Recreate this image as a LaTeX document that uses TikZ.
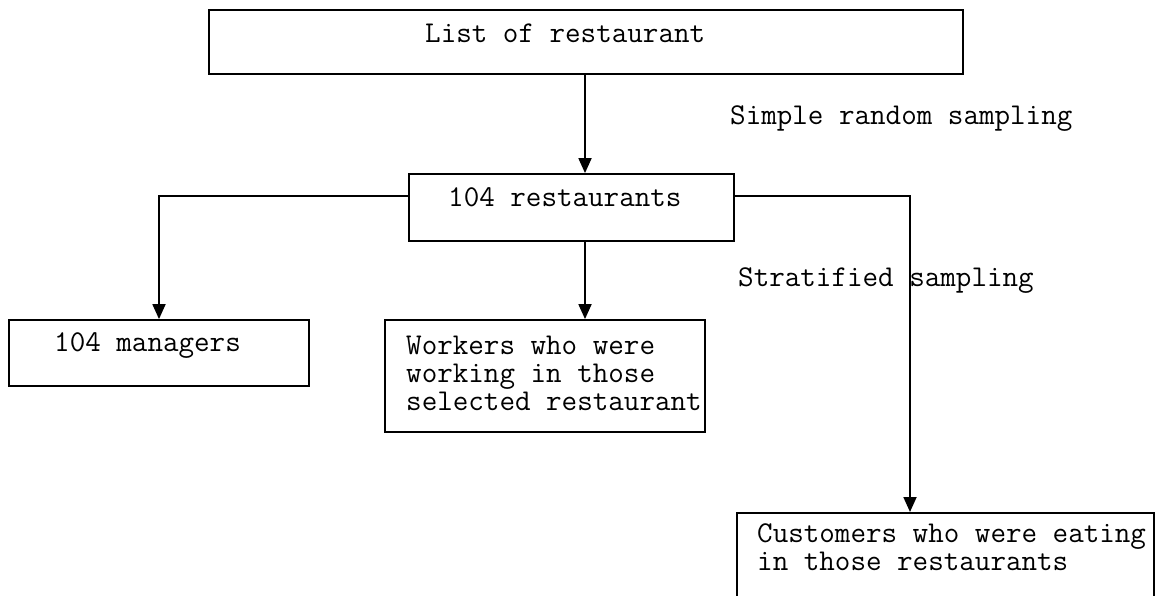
\documentclass[tikz,border=0pt]{standalone}
\usepackage{fontspec}
\usetikzlibrary{arrows.meta}
\tikzset{
  box/.style={draw, line width=1.8pt, rectangle, inner sep=0pt},
  txt/.style={font=\ttfamily\fontsize{30.2}{27.6}\selectfont, inner sep=0pt, anchor=base west, align=left},
  conn/.style={line width=1.8pt},
  arr/.style={line width=1.8pt, -{Triangle[width=13pt,length=15pt]}},
}
\begin{document}
\begin{tikzpicture}[x=1pt,y=-1pt]
\useasboundingbox (0,0) rectangle (1162,595);
\begin{scope}
\clip (0,0) rectangle (1162,595);
% boxes
\node[box, minimum width=754pt, minimum height=64pt] (b1) at (586,42) {};
\node[box, minimum width=325pt, minimum height=67pt] (b2) at (571.5,207.5) {};
\node[box, minimum width=300pt, minimum height=66pt] (b3) at (159,353) {};
\node[box, minimum width=320pt, minimum height=112pt] (b4) at (545,376) {};
\node[box, anchor=north west, minimum width=417pt, minimum height=110pt] (b5) at (736,512) {};
% texts
\node[txt] (t1) at (425,42) {List of restaurant};
\node[txt] (t2) at (448,206) {104 restaurants};
\node[txt] (t3) at (54,351) {104 managers};
\node[txt] (t4) at (406,410) {Workers who were\\working in those\\selected restaurant};
\node[txt] (t5) at (757,570) {Customers who were eating\\in those restaurants};
\node[txt] (l1) at (730,124) {Simple random sampling};
\node[txt] (l2) at (738,286) {Stratified sampling};
% helper coordinates
\coordinate (m1) at (585,0);
\coordinate (h) at (0,196);
\coordinate (vr) at (910,0);
\coordinate (vl) at (159,0);
% connectors
\draw[arr] (b1.south -| m1) -- (b2.north -| m1);
\draw[arr] (b2.south -| m1) -- (b4.north -| m1);
\draw[arr] (b2.west |- h) -| (b3.north -| vl);
\draw[arr] (b2.east |- h) -| (b5.north -| vr);
\end{scope}
\end{tikzpicture}
\end{document}
